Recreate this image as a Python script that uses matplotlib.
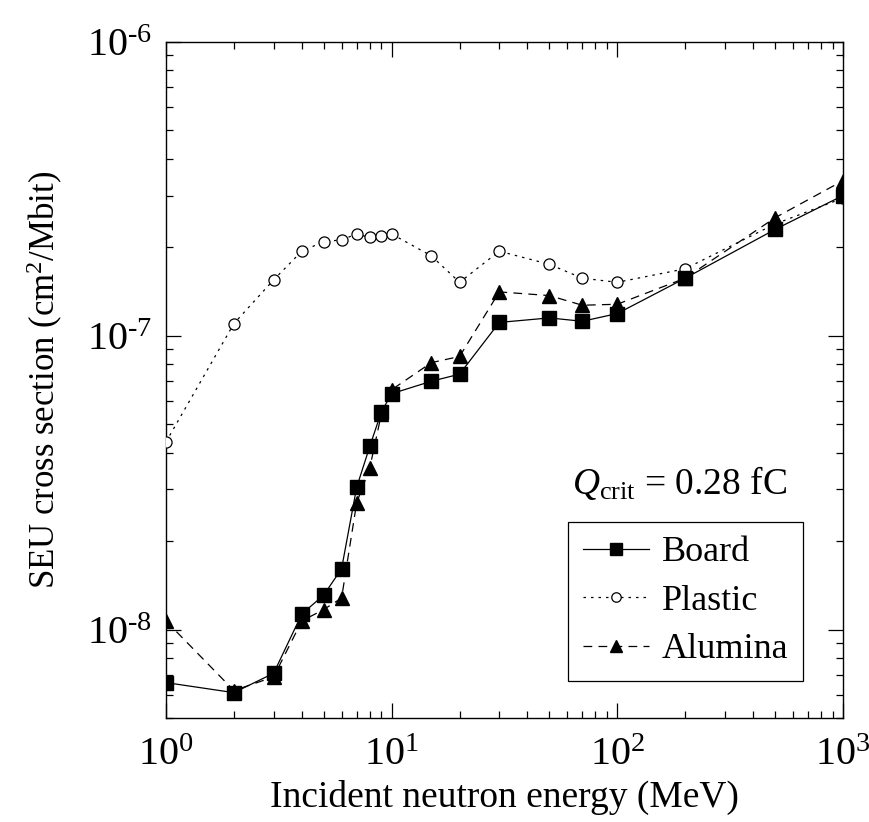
import matplotlib
matplotlib.use("Agg")
import matplotlib.pyplot as plt
from matplotlib.ticker import LogLocator, NullFormatter, FuncFormatter
import numpy as np

plt.rcParams['font.family'] = ['Liberation Serif', 'DejaVu Serif']
plt.rcParams['mathtext.fontset'] = 'custom'
plt.rcParams['mathtext.rm'] = 'Liberation Serif'
plt.rcParams['mathtext.it'] = 'Liberation Serif:italic'
plt.rcParams['mathtext.default'] = 'regular'

# neutron energy (MeV)
energy = [1, 2, 3, 4, 5, 6, 7, 8, 9, 10, 15, 20, 30, 50, 70, 100, 200, 500, 1000]

# SEU cross section (cm2/Mbit)
board = [6.6e-9, 6.1e-9, 7.1e-9, 1.13e-8, 1.31e-8, 1.61e-8, 3.05e-8, 4.2e-8, 5.5e-8,
         6.35e-8, 7.0e-8, 7.4e-8, 1.11e-7, 1.15e-7, 1.12e-7, 1.19e-7, 1.57e-7, 2.3e-7, 3.0e-7]
plastic = [4.35e-8, 1.1e-7, 1.55e-7, 1.94e-7, 2.09e-7, 2.12e-7, 2.22e-7, 2.16e-7, 2.19e-7,
           2.22e-7, 1.87e-7, 1.52e-7, 1.94e-7, 1.75e-7, 1.57e-7, 1.52e-7, 1.69e-7, 2.4e-7, 2.94e-7]
alumina = [1.07e-8, 6.2e-9, 6.9e-9, 1.07e-8, 1.17e-8, 1.28e-8, 2.7e-8, 3.55e-8, 5.4e-8,
           6.55e-8, 8.1e-8, 8.5e-8, 1.41e-7, 1.37e-7, 1.27e-7, 1.28e-7, 1.57e-7, 2.52e-7, 3.37e-7]


def pow10(v, pos):
    e = int(round(np.log10(v)))
    if e < 0:
        return r'$10^{\text{-}%d}$' % (-e)
    return r'$10^{%d}$' % e


fig = plt.figure(figsize=(8.69, 8.22), dpi=100)
ax = fig.add_axes([0.191, 0.1265, 0.779, 0.8225])

ax.plot(energy, plastic, linestyle=(0, (2, 4)), color='black', linewidth=0.9,
        marker='o', markersize=8, markerfacecolor='white', markeredgecolor='black',
        markeredgewidth=0.9, label='Plastic', zorder=3)
ax.plot(energy, alumina, linestyle=(0, (7, 5)), color='black', linewidth=0.9,
        marker='^', markersize=10, markerfacecolor='black', markeredgecolor='black',
        label='Alumina', zorder=4)
ax.plot(energy, board, linestyle='-', color='black', linewidth=0.9,
        marker='s', markersize=9.5, markerfacecolor='black', markeredgecolor='black',
        label='Board', zorder=5)

ax.set_xscale('log')
ax.set_yscale('log')
ax.set_xlim(1, 1000)
ax.set_ylim(5e-9, 1e-6)

ax.yaxis.set_major_locator(LogLocator(base=10, numticks=10))
ax.yaxis.set_minor_locator(LogLocator(base=10, subs=range(2, 10), numticks=20))
ax.xaxis.set_major_formatter(FuncFormatter(pow10))
ax.yaxis.set_major_formatter(FuncFormatter(pow10))
ax.yaxis.set_minor_formatter(NullFormatter())
ax.xaxis.set_minor_formatter(NullFormatter())

ax.tick_params(which='both', direction='in', top=True, right=True, labelsize=29, width=0.9)
ax.tick_params(axis='x', pad=14)
ax.tick_params(axis='y', pad=10)
ax.tick_params(which='major', length=11)
ax.tick_params(which='minor', length=5)
for sp in ax.spines.values():
    sp.set_linewidth(1.0)

ax.set_xlabel('Incident neutron energy (MeV)', fontsize=27, labelpad=4)
ax.set_ylabel('SEU cross section (cm$^2$/Mbit)', fontsize=25, labelpad=16)

ax.text(0.60, 0.347, r'$\mathit{Q}_{\mathrm{crit}}$ = 0.28 fC', transform=ax.transAxes,
        fontsize=27, ha='left', va='center')

handles, labels = ax.get_legend_handles_labels()
order = [2, 0, 1]
leg = ax.legend([handles[i] for i in order], [labels[i] for i in order],
                loc='lower left', bbox_to_anchor=(0.594, 0.055), fontsize=26,
                frameon=True, fancybox=False, framealpha=1, edgecolor='black',
                handlelength=1.85, handletextpad=0.35, labelspacing=0.42,
                borderpad=0.4, borderaxespad=0, markerscale=0.85)
leg.get_frame().set_linewidth(0.9)

fig.savefig('out.png', dpi=100)
